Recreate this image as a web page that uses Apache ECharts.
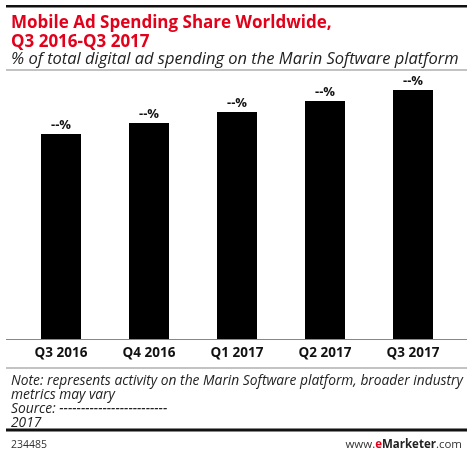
<!DOCTYPE html>
<html><head><meta charset="utf-8">
<script src="https://cdn.jsdelivr.net/npm/echarts@6/dist/echarts.min.js"></script>
<style>html,body{margin:0;padding:0;background:#fff}#c{width:474px;height:453px}</style>
</head><body><div id="c"></div>
<script>
var categories = ["Q3 2016", "Q4 2016", "Q1 2017", "Q2 2017", "Q3 2017"];
var values = [76.2, 80.3, 84.4, 88.5, 92.6];
var valueLabels = ["--%", "--%", "--%", "--%", "--%"];
var titleText = "Mobile Ad Spending Share Worldwide,\nQ3 2016-Q3 2017";
var subtitleText = "% of total digital ad spending on the Marin Software platform";
var noteText = "Note: represents activity on the Marin Software platform, broader industry\nmetrics may vary\nSource: -------------------------\n2017";
var chartId = "234485";

var chart = echarts.init(document.getElementById('c'), null, {renderer: 'canvas'});
var F = "'Open Sans', sans-serif";
chart.setOption({
  animation: false,
  backgroundColor: '#fff',
  textStyle: {fontFamily: F},
  title: [
    {text: titleText, left: 6, top: 9, textStyle: {color: '#e2001a', fontSize: 17, fontWeight: 'bold', fontFamily: F, lineHeight: 19}},
    {text: subtitleText, left: 6, top: 46, textStyle: {color: '#222', fontSize: 16.5, fontStyle: 'italic', fontWeight: 'normal', fontFamily: F}},
    {text: noteText, left: 6, top: 369, textStyle: {color: '#222', fontSize: 13.8, fontStyle: 'italic', fontWeight: 'normal', fontFamily: F, lineHeight: 14}},
    {text: chartId, left: 6, top: 435, textStyle: {color: '#333', fontSize: 10.5, fontWeight: 'normal', fontFamily: F}},
    {text: '{a|www.}{b|e}{c|Marketer}{a|.com}', right: 7, top: 434, textStyle: {rich: {
      a: {color: '#333', fontSize: 11.5, fontWeight: 'normal', fontFamily: F},
      b: {color: '#e2001a', fontSize: 11.5, fontWeight: 'bold', fontFamily: F},
      c: {color: '#222', fontSize: 11.5, fontWeight: 'bold', fontFamily: F}
    }}}
  ],
  graphic: [
    {type: 'rect', shape: {x: 6, y: 5, width: 461, height: 2.5}, style: {fill: '#111'}},
    {type: 'rect', shape: {x: 6, y: 69.5, width: 461, height: 1}, style: {fill: '#888'}},
    {type: 'rect', shape: {x: 6, y: 339, width: 461, height: 1}, style: {fill: '#888'}, z: 10},
    {type: 'rect', shape: {x: 6, y: 367.5, width: 461, height: 1}, style: {fill: '#888'}},
    {type: 'rect', shape: {x: 6, y: 428.5, width: 461, height: 3}, style: {fill: '#111'}}
  ],
  grid: {left: 17, right: 17, top: 70, bottom: 114, containLabel: false},
  xAxis: {
    type: 'category', data: categories,
    axisLine: {show: false},
    axisTick: {show: false},
    axisLabel: {color: '#111', fontSize: 13.5, fontWeight: 'bold', fontFamily: F, margin: 7}
  },
  yAxis: {type: 'value', min: 0, max: 100, show: false, splitLine: {show: false}},
  series: [
    {type: 'bar', data: values, barWidth: 40,
     itemStyle: {color: '#000'},
     label: {show: true, position: 'top', distance: 2, color: '#111', fontSize: 13, fontWeight: 'bold', fontFamily: F,
       formatter: function (p) { return valueLabels[p.dataIndex]; }}}
  ]
});
</script></body></html>
